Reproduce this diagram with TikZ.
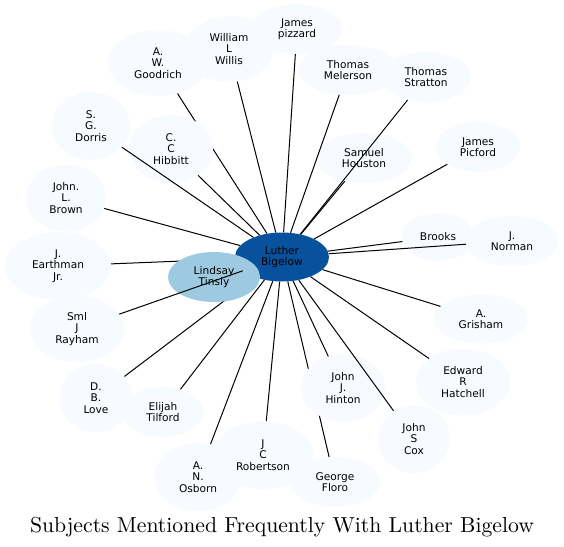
\documentclass[tikz,border=0pt]{standalone}
\usepackage{fontspec}
\newfontfamily\nodefont{DejaVu Sans}
\newfontfamily\titlefont{lmroman10-regular}[Extension=.otf]
\usetikzlibrary{shapes.geometric}
\pgfdeclarelayer{bg}\pgfdeclarelayer{under}\pgfdeclarelayer{top}
\pgfsetlayers{bg,under,main,top}
\definecolor{leafc}{HTML}{F7FBFF}
\definecolor{hubc}{HTML}{08519C}
\definecolor{midc}{HTML}{9ECAE1}
\begin{document}
\begin{tikzpicture}[x=1pt,y=-1pt,
  person/.style={ellipse, inner sep=0pt, align=center, text=black,
    font=\nodefont\fontsize{10.6}{11.4}\selectfont},
  leafnode/.style={person, fill=leafc},
  sz/.style 2 args={minimum width=#1pt, minimum height=#2pt},
  link/.style={draw=black, line width=1pt}]
\useasboundingbox (0,0) rectangle (564,546);

\begin{pgfonlayer}{bg}
\node[leafnode, sz={100}{66}] (goodrich) at (158,63) {A.\\W.\\Goodrich};
\node[leafnode, sz={88}{66}] (willis) at (229,49) {William\\L\\Willis};
\node[leafnode, sz={90}{50}] (pizzard) at (297,29) {James\\pizzard};
\node[leafnode, sz={100}{50}] (melerson) at (348,70) {Thomas\\Melerson};
\node[leafnode, sz={90}{50}] (stratton) at (426,77) {Thomas\\Stratton};
\node[leafnode, sz={96}{50}] (houston) at (364,158) {Samuel\\Houston};
\node[leafnode, sz={84}{50}] (picford) at (478,147) {James\\Picford};
\node[leafnode, sz={78}{68}] (dorris) at (91,126) {S.\\G.\\Dorris};
\node[leafnode, sz={80}{67}] (brown) at (66,198) {John.\\L.\\Brown};
\node[leafnode, sz={106}{68}] (earthman) at (58,266) {J.\\Earthman\\Jr.};
\node[leafnode, sz={94}{66}] (rayham) at (77,329) {Sml\\J\\Rayham};
\node[leafnode, sz={73}{68}] (love) at (96,398) {D.\\B.\\Love};
\node[leafnode, sz={81}{50}] (tilford) at (163,412) {Elijah\\Tilford};
\node[leafnode, sz={87}{68}] (osborn) at (198,477) {A.\\N.\\Osborn};
\node[leafnode, sz={100}{68}] (robertson) at (263,455) {J\\C\\Robertson};
\node[leafnode, sz={90}{50}] (floro) at (335,482) {George\\Floro};
\node[leafnode, sz={72}{68}] (cox) at (414,439) {John\\S\\Cox};
\node[leafnode, sz={94}{67}] (hatchell) at (463,382) {Edward\\R\\Hatchell};
\node[leafnode, sz={94}{49}] (grisham) at (481,319) {A.\\Grisham};
\node[leafnode, sz={72}{48}] (brooks) at (438,237) {Brooks};
\node[leafnode, sz={92}{50}] (norman) at (512,241) {J.\\Norman};
\end{pgfonlayer}

\node[leafnode, sz={84}{68}] (hibbitt) at (171,149) {C.\\C\\Hibbitt};
\node[leafnode, sz={84}{67}] (hinton) at (343,388) {John\\J.\\Hinton};
\node[person, fill=hubc, sz={94}{49}] (bigelow) at (282,257) {Luther\\Bigelow};
\node[person, fill=midc, sz={92}{50}] (tinsly) at (214,277) {Lindsay\\Tinsly};

\begin{pgfonlayer}{under}
\foreach \t in {earthman,love,floro,goodrich}
  \draw[link] (bigelow) -- (\t);
\end{pgfonlayer}

\begin{pgfonlayer}{top}
\foreach \t in {willis,pizzard,melerson,stratton,houston,picford,
  dorris,hibbitt,brown,rayham,tilford,osborn,robertson,hinton,cox,
  hatchell,grisham,brooks,norman}
  \draw[link] (bigelow) -- (\t);
\end{pgfonlayer}

\node[font=\titlefont\fontsize{21.7}{25}\selectfont, anchor=base] (title) at (282,532)
  {Subjects Mentioned Frequently With Luther Bigelow};
\end{tikzpicture}
\end{document}
